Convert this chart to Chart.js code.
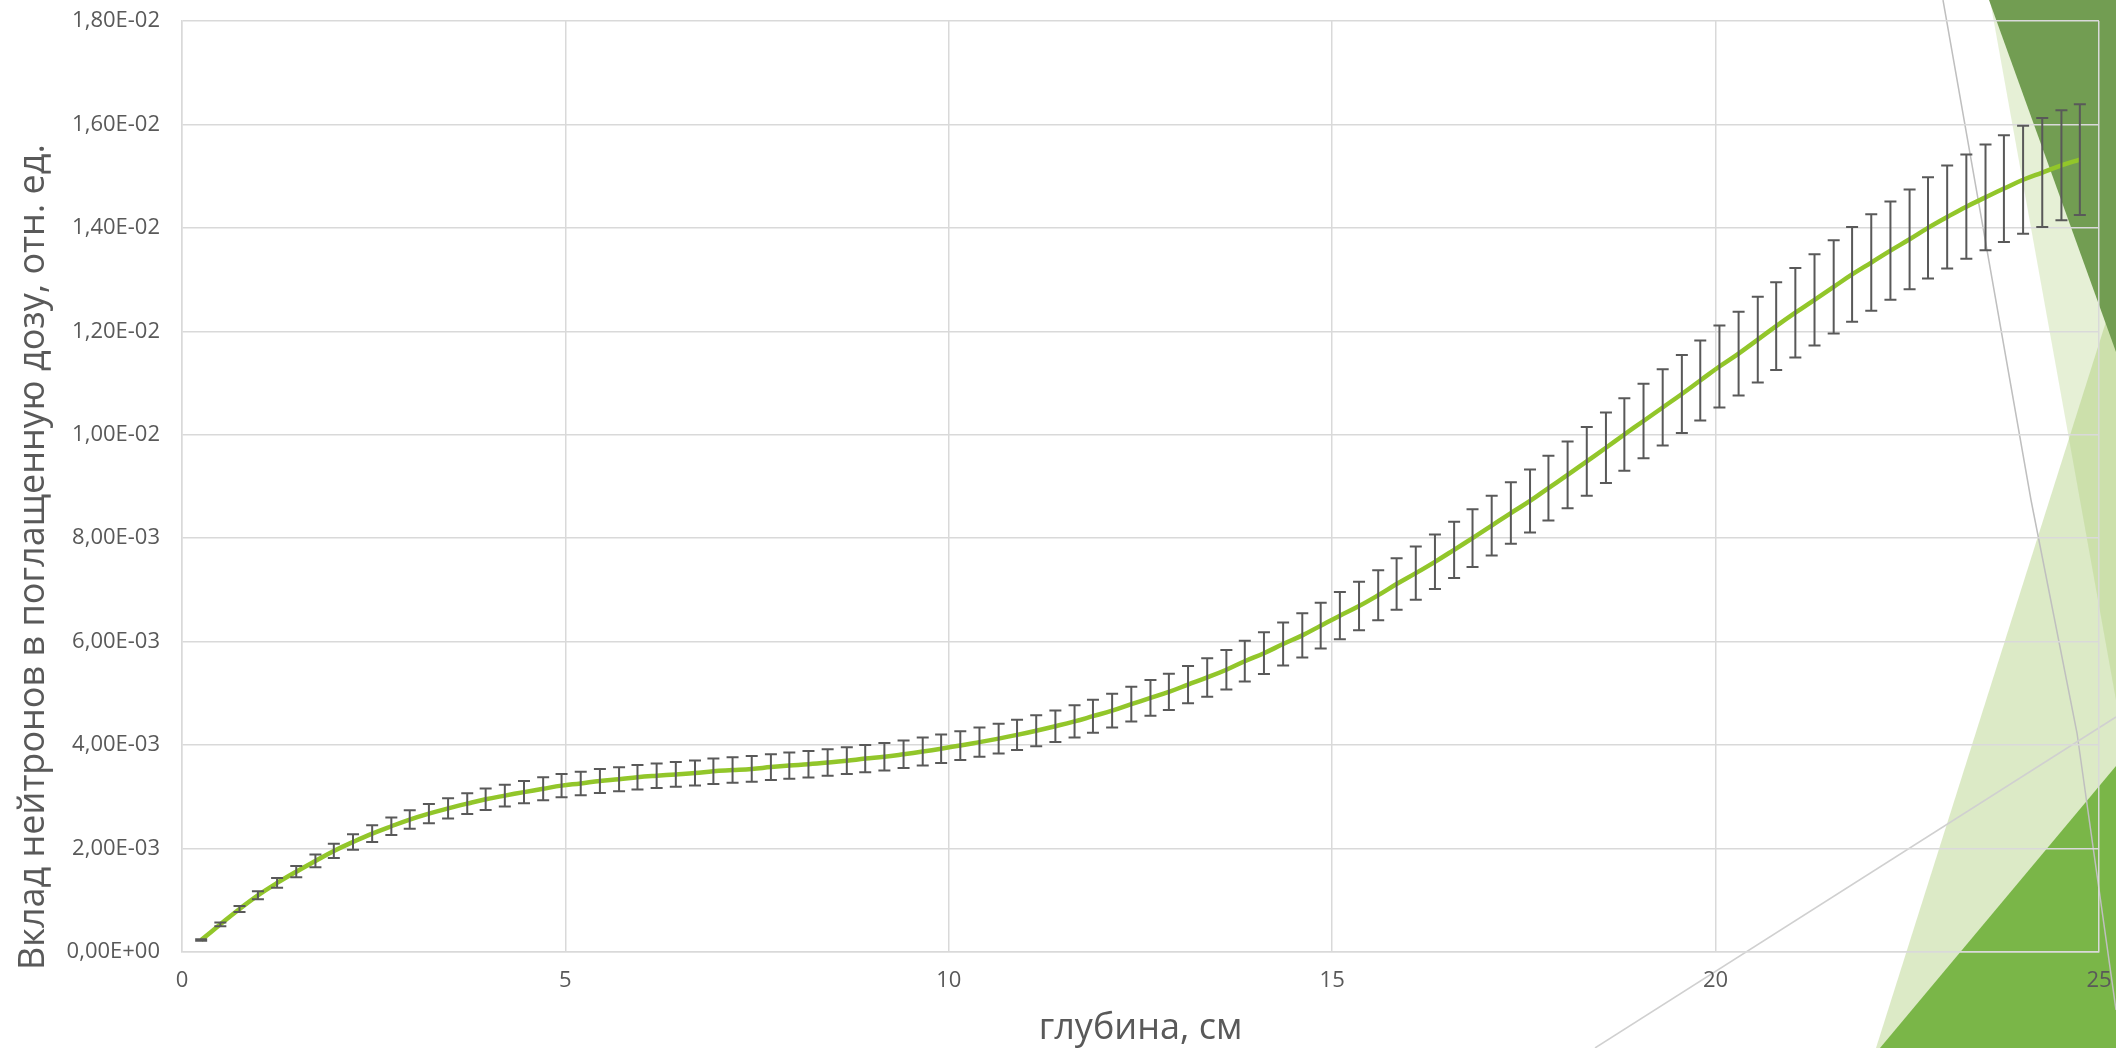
<!DOCTYPE html>
<html lang="ru">
<head>
<meta charset="utf-8">
<title>Вклад нейтронов в поглащенную дозу</title>
<script src="https://cdn.jsdelivr.net/npm/chart.js@4/dist/chart.umd.min.js"></script>
<style>
  html, body { margin: 0; padding: 0; background: #fff; }
  #wrap { width: 2116px; height: 1048px; }
</style>
</head>
<body>
<div id="wrap"><canvas id="doseChart" width="2116" height="1048"></canvas></div>
<script>
// глубина, см
const depth = [
  0.25, 0.50, 0.75, 0.99, 1.24, 1.49, 1.74, 1.98, 2.23, 2.48,
  2.73, 2.97, 3.22, 3.47, 3.72, 3.96, 4.21, 4.46, 4.71, 4.95,
  5.20, 5.45, 5.70, 5.94, 6.19, 6.44, 6.69, 6.93, 7.18, 7.43,
  7.68, 7.92, 8.17, 8.42, 8.67, 8.91, 9.16, 9.41, 9.66, 9.90,
  10.15, 10.40, 10.65, 10.89, 11.14, 11.39, 11.64, 11.88, 12.13, 12.38,
  12.63, 12.87, 13.12, 13.37, 13.62, 13.86, 14.11, 14.36, 14.61, 14.85,
  15.10, 15.35, 15.60, 15.84, 16.09, 16.34, 16.59, 16.83, 17.08, 17.33,
  17.58, 17.82, 18.07, 18.32, 18.57, 18.81, 19.06, 19.31, 19.56, 19.80,
  20.05, 20.30, 20.55, 20.79, 21.04, 21.29, 21.54, 21.78, 22.03, 22.28,
  22.53, 22.77, 23.02, 23.27, 23.52, 23.76, 24.01, 24.26, 24.51, 24.75
];

// вклад нейтронов, отн. ед.
const neutronDose = [
  2.32e-4, 5.35e-4, 8.32e-4, 1.096e-3, 1.335e-3, 1.553e-3, 1.760e-3, 1.954e-3, 2.128e-3, 2.289e-3,
  2.431e-3, 2.560e-3, 2.675e-3, 2.776e-3, 2.869e-3, 2.953e-3, 3.024e-3, 3.091e-3, 3.156e-3, 3.217e-3,
  3.259e-3, 3.308e-3, 3.340e-3, 3.379e-3, 3.408e-3, 3.433e-3, 3.459e-3, 3.495e-3, 3.517e-3, 3.540e-3,
  3.575e-3, 3.604e-3, 3.630e-3, 3.662e-3, 3.698e-3, 3.739e-3, 3.775e-3, 3.823e-3, 3.875e-3, 3.930e-3,
  3.991e-3, 4.058e-3, 4.126e-3, 4.197e-3, 4.278e-3, 4.365e-3, 4.458e-3, 4.559e-3, 4.665e-3, 4.791e-3,
  4.913e-3, 5.029e-3, 5.170e-3, 5.309e-3, 5.458e-3, 5.622e-3, 5.777e-3, 5.954e-3, 6.122e-3, 6.309e-3,
  6.503e-3, 6.689e-3, 6.899e-3, 7.114e-3, 7.325e-3, 7.544e-3, 7.776e-3, 8.002e-3, 8.244e-3, 8.487e-3,
  8.720e-3, 8.969e-3, 9.223e-3, 9.487e-3, 9.749e-3, 1.0006e-2, 1.0267e-2, 1.0528e-2, 1.0789e-2, 1.105e-2,
  1.132e-2, 1.157e-2, 1.184e-2, 1.210e-2, 1.236e-2, 1.261e-2, 1.286e-2, 1.310e-2, 1.333e-2, 1.356e-2,
  1.378e-2, 1.400e-2, 1.421e-2, 1.441e-2, 1.459e-2, 1.476e-2, 1.493e-2, 1.507e-2, 1.521e-2, 1.532e-2
];

// погрешность, % от значения
const errorPercent = 7;

const xTicks = [0, 5, 10, 15, 20, 25];
const yMax = 0.018;
const yStep = 0.002;

const FONT = "'Open Sans', 'Noto Sans', sans-serif";
const TEXT = '#595959';
const GRID = '#d9d9d9';

// 1,80E-02 style labels
function sci(v) {
  const parts = v.toExponential(2).split('e');
  const exp = parseInt(parts[1], 10);
  return parts[0].replace('.', ',') + 'E' + (exp < 0 ? '-' : '+') + String(Math.abs(exp)).padStart(2, '0');
}

// slide background shapes behind the chart
const slideDecor = {
  id: 'slideDecor',
  beforeDraw(chart) {
    const c = chart.ctx;
    c.save();
    c.fillStyle = '#ffffff';
    c.fillRect(0, 0, chart.width, chart.height);

    const poly = (pts, fill) => {
      c.beginPath();
      c.moveTo(pts[0][0], pts[0][1]);
      for (let i = 1; i < pts.length; i++) c.lineTo(pts[i][0], pts[i][1]);
      c.closePath();
      c.fillStyle = fill;
      c.fill();
    };

    poly([[1876, 1048], [2116, 290], [2116, 1048]], 'rgba(155,195,91,0.35)');
    poly([[1990, 0], [2116, 0], [2116, 700]], 'rgba(155,195,91,0.25)');
    poly([[1989, 0], [2116, 0], [2116, 352]], '#729d52');
    poly([[1880, 1048], [2116, 766], [2116, 1048]], '#7ab648');

    c.lineWidth = 1.5;
    c.strokeStyle = '#bfbfbf';
    c.beginPath();
    c.moveTo(1943, 0);
    c.lineTo(2031, 500);
    c.lineTo(2077, 733);
    c.lineTo(2116, 1010);
    c.stroke();

    c.strokeStyle = '#d0d0d0';
    c.beginPath();
    c.moveTo(1595, 1048);
    c.lineTo(2116, 717);
    c.stroke();
    c.restore();
  }
};

// error bars: ±errorPercent of each value
const errorBars = {
  id: 'errorBars',
  afterDatasetsDraw(chart) {
    const c = chart.ctx;
    const xs = chart.scales.x;
    const ys = chart.scales.y;
    const cap = 6;
    c.save();
    c.strokeStyle = '#595959';
    c.lineWidth = 2;
    depth.forEach((d, i) => {
      const v = neutronDose[i];
      const e = v * errorPercent / 100;
      const x = xs.getPixelForValue(d);
      const yTop = ys.getPixelForValue(v + e);
      const yBot = ys.getPixelForValue(v - e);
      c.beginPath();
      c.moveTo(x, yTop);
      c.lineTo(x, yBot);
      c.moveTo(x - cap, yTop);
      c.lineTo(x + cap, yTop);
      c.moveTo(x - cap, yBot);
      c.lineTo(x + cap, yBot);
      c.stroke();
    });
    c.restore();
  }
};

// vertical axis title
const yTitle = {
  id: 'yTitle',
  afterDraw(chart) {
    const c = chart.ctx;
    c.save();
    c.translate(43.5, 557);
    c.rotate(-Math.PI / 2);
    c.fillStyle = TEXT;
    c.font = '36px ' + FONT;
    c.textAlign = 'center';
    c.textBaseline = 'alphabetic';
    c.fillText('Вклад нейтронов в поглащенную дозу, отн. ед.', 0, 0);
    c.restore();
  }
};

const points = depth.map((d, i) => ({ x: d, y: neutronDose[i] }));

new Chart(document.getElementById('doseChart'), {
  type: 'line',
  data: {
    datasets: [{
      data: points,
      borderColor: '#92c62a',
      borderWidth: 4.5,
      pointRadius: 0,
      tension: 0.4,
      fill: false
    }]
  },
  options: {
    responsive: false,
    animation: false,
    devicePixelRatio: 1,
    layout: { padding: { top: 21, right: 17, left: 0, bottom: 0 } },
    plugins: {
      legend: { display: false },
      tooltip: { enabled: false }
    },
    scales: {
      x: {
        type: 'linear',
        min: 0,
        max: 25,
        afterBuildTicks(scale) {
          scale.ticks = xTicks.map(v => ({ value: v }));
        },
        afterFit(scale) {
          scale.height = 96;
          scale.paddingLeft = 0;
          scale.paddingRight = 0;
        },
        ticks: {
          color: TEXT,
          font: { family: FONT, size: 22 },
          padding: 16,
          maxRotation: 0
        },
        grid: { color: GRID, lineWidth: 1.5, drawTicks: false },
        border: { color: GRID, width: 1.5 },
        title: {
          display: true,
          text: 'глубина, см',
          color: TEXT,
          font: { family: FONT, size: 36, lineHeight: 1.05 },
          padding: { top: 0, bottom: 0 }
        }
      },
      y: {
        min: 0,
        max: yMax,
        afterFit(scale) {
          scale.width = 182;
          scale.paddingTop = 0;
          scale.paddingBottom = 0;
        },
        ticks: {
          stepSize: yStep,
          color: TEXT,
          font: { family: FONT, size: 22 },
          padding: 22,
          callback: v => sci(v)
        },
        grid: { color: GRID, lineWidth: 1.5, drawTicks: false },
        border: { color: GRID, width: 1.5 }
      }
    }
  },
  plugins: [slideDecor, errorBars, yTitle]
});
</script>
</body>
</html>
